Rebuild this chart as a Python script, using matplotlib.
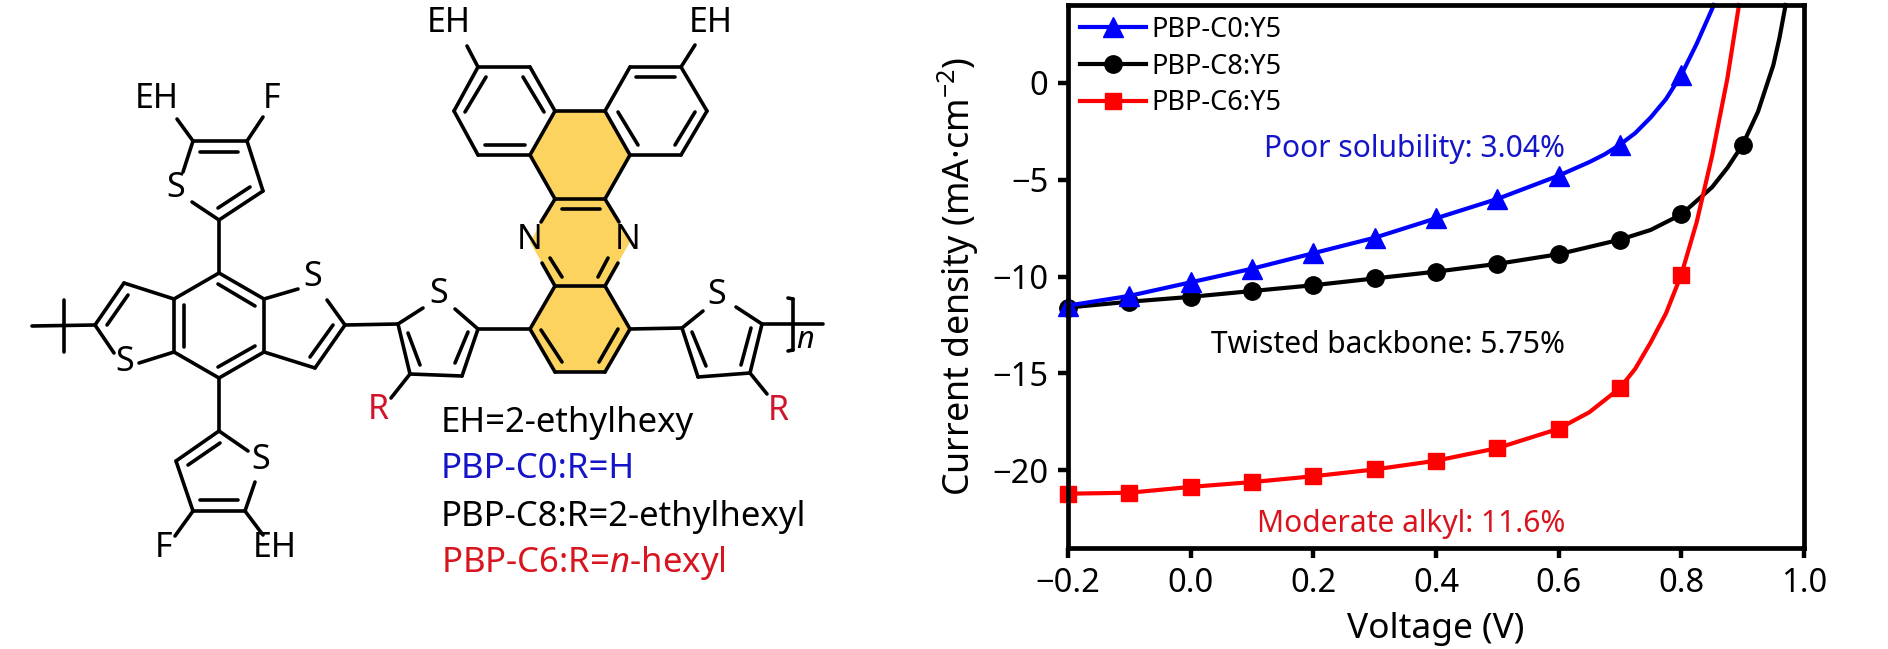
import matplotlib
matplotlib.use('Agg')
import matplotlib.pyplot as plt
from matplotlib.collections import LineCollection
from matplotlib.patches import Polygon

plt.rcParams['font.family'] = ['Noto Sans', 'DejaVu Sans']
plt.rcParams['mathtext.fontset'] = 'custom'
plt.rcParams['mathtext.rm'] = 'Noto Sans'
plt.rcParams['mathtext.it'] = 'Noto Sans:italic'
plt.rcParams['mathtext.default'] = 'regular'

# J-V curves
v_c0 = [-0.2, -0.1, 0.0, 0.1, 0.2, 0.3, 0.4, 0.5, 0.6, 0.65, 0.675, 0.7, 0.725, 0.75, 0.775, 0.8, 0.825, 0.853]
j_c0 = [-11.5, -11.0, -10.3, -9.6, -8.8, -8.0, -7.0, -6.0, -4.8, -4.1, -3.7, -3.2, -2.6, -1.8, -0.85, 0.4, 2.0, 4.0]
mark_c0 = [0, 1, 2, 3, 4, 5, 6, 7, 8, 11, 15]

v_c8 = [-0.2, -0.1, 0.0, 0.1, 0.2, 0.3, 0.4, 0.5, 0.6, 0.7, 0.75, 0.8, 0.85, 0.875, 0.9, 0.925, 0.95, 0.96, 0.97]
j_c8 = [-11.6, -11.3, -11.05, -10.75, -10.45, -10.1, -9.75, -9.35, -8.85, -8.1, -7.6, -6.8, -5.4, -4.4, -3.2, -1.5, 0.9, 2.3, 4.0]
mark_c8 = [0, 1, 2, 3, 4, 5, 6, 7, 8, 9, 11, 14]

v_c6 = [-0.2, -0.1, 0.0, 0.1, 0.2, 0.3, 0.4, 0.5, 0.6, 0.65, 0.7, 0.725, 0.75, 0.775, 0.8, 0.825, 0.85, 0.875, 0.894]
j_c6 = [-21.2, -21.15, -20.85, -20.6, -20.3, -19.95, -19.5, -18.85, -17.85, -17.0, -15.75, -14.75, -13.4, -11.9, -9.9, -7.2, -3.8, 0.2, 4.0]
mark_c6 = [0, 1, 2, 3, 4, 5, 6, 7, 8, 10, 14]

x_ticks = [-0.2, 0.0, 0.2, 0.4, 0.6, 0.8, 1.0]
x_labels = ['\u22120.2', '0.0', '0.2', '0.4', '0.6', '0.8', '1.0']
y_ticks = [-20, -15, -10, -5, 0]
y_labels = ['\u221220', '\u221215', '\u221210', '\u22125', '0']

# structure drawing, in image pixels
bonds = [
    # upper thiophene
    [(193, 141), (247, 141)], [(200, 152), (238, 152)], [(247, 141), (263, 191)],
    [(263, 191), (219, 220)], [(250, 187), (218, 208)], [(219, 220), (192, 202)],
    [(193, 141), (183, 172)], [(193, 141), (177, 119)], [(247, 141), (263, 117)],
    [(219, 220), (219, 273)],
    # benzodithiophene
    [(219, 273), (264, 299)], [(218, 284), (255, 306)], [(264, 299), (264, 352)],
    [(264, 352), (219, 378)], [(218, 367), (255, 346)], [(219, 378), (174, 352)],
    [(174, 352), (174, 299)], [(184, 305), (184, 347)], [(174, 299), (219, 273)],
    [(174, 299), (124, 283)], [(124, 283), (95, 325)], [(128, 295), (107, 325)],
    [(95, 325), (114, 353)], [(139, 363), (174, 352)],
    [(264, 299), (298, 289)], [(327, 300), (345, 325)], [(345, 325), (315, 368)],
    [(333, 325), (310, 357)], [(315, 368), (264, 352)],
    # left end with bracket
    [(32, 326), (95, 325)], [(64, 300), (64, 352)],
    # lower thiophene
    [(219, 378), (219, 431)], [(219, 431), (248, 451)], [(255, 482), (245, 511)],
    [(245, 511), (193, 511)], [(200, 500), (238, 500)], [(193, 511), (176, 461)],
    [(176, 461), (219, 431)], [(188, 465), (220, 443)], [(193, 511), (175, 536)],
    [(245, 511), (263, 535)],
    # thiophene with R, left
    [(345, 325), (398, 324)], [(398, 324), (423, 308)], [(455, 309), (478, 329)],
    [(478, 329), (462, 376)], [(468, 332), (455, 363)], [(462, 376), (410, 374)],
    [(410, 374), (398, 324)], [(408, 333), (420, 365)], [(410, 374), (391, 398)],
    [(478, 329), (530, 329)],
    # lower yellow ring
    [(530, 329), (555, 286)], [(555, 286), (605, 286)], [(605, 286), (630, 329)],
    [(630, 329), (605, 372)], [(605, 372), (555, 372)], [(555, 372), (530, 329)],
    [(541, 330), (562, 362)], [(618, 329), (599, 362)],
    # pyrazine
    [(555, 199), (605, 199)], [(562, 209), (600, 209)], [(555, 199), (541, 222)],
    [(555, 286), (542, 263)], [(605, 199), (619, 222)], [(605, 286), (618, 263)],
    [(550, 258), (562, 277)], [(608, 258), (598, 277)],
    # upper yellow ring
    [(555, 199), (530, 155)], [(530, 155), (555, 111)], [(555, 111), (605, 111)],
    [(605, 111), (630, 155)], [(630, 155), (605, 199)],
    # outer rings
    [(530, 155), (478, 155)], [(478, 155), (454, 111)], [(454, 111), (478, 67)],
    [(478, 67), (530, 67)], [(530, 67), (555, 111)], [(485, 145), (525, 145)],
    [(465, 112), (486, 77)], [(523, 77), (544, 112)], [(478, 67), (467, 46)],
    [(630, 155), (681, 155)], [(681, 155), (707, 111)], [(707, 111), (681, 67)],
    [(681, 67), (630, 67)], [(630, 67), (605, 111)], [(618, 112), (638, 145)],
    [(636, 77), (675, 77)], [(675, 145), (695, 112)], [(681, 67), (695, 45)],
    # thiophene with R, right
    [(630, 329), (682, 328)], [(682, 328), (703, 311)], [(736, 307), (762, 324)],
    [(762, 324), (750, 373)], [(751, 328), (741, 365)], [(750, 373), (698, 377)],
    [(698, 377), (682, 328)], [(692, 332), (706, 366)], [(750, 373), (767, 394)],
    [(762, 324), (823, 324)],
    [(788, 298), (793, 299)], [(793, 299), (793, 350)], [(793, 350), (788, 351)],
]
yellow_rings = [
    [(555, 199), (605, 199), (630, 155), (605, 111), (555, 111), (530, 155)],
    [(555, 199), (605, 199), (630, 242), (605, 286), (555, 286), (530, 242)],
    [(555, 286), (605, 286), (630, 329), (605, 372), (555, 372), (530, 329)],
]
atom_labels = [
    ('EH', 157, 99, 'k'), ('F', 272, 99, 'k'), ('S', 176, 188, 'k'), ('S', 313, 277, 'k'),
    ('S', 125, 362, 'k'), ('S', 261, 460, 'k'), ('F', 164, 548, 'k'), ('EH', 275, 548, 'k'),
    ('S', 439, 294, 'k'), ('S', 717, 295, 'k'), ('N', 530, 240, 'k'), ('N', 628, 240, 'k'),
    ('EH', 449, 23, 'k'), ('EH', 711, 23, 'k'),
    ('R', 378, 410, '#d0142c'), ('R', 778, 411, '#d0142c'),
]
notes = [
    ('EH=2-ethylhexy', 432, 'k'),
    ('PBP-C0:R=H', 478, '#1414c8'),
    ('PBP-C8:R=2-ethylhexyl', 526, 'k'),
    ('PBP-C6:R=$\\mathit{n}$-hexyl', 572, '#d8141e'),
]

fig = plt.figure(figsize=(18.88, 6.49), dpi=100)

# left part: whole figure in pixel coordinates
ax0 = fig.add_axes([0, 0, 1, 1])
ax0.set_xlim(0, 1888)
ax0.set_ylim(649, 0)
ax0.axis('off')
for ring in yellow_rings:
    ax0.add_patch(Polygon(ring, closed=True, fc='#fcd35f', ec='none', zorder=1))
ax0.add_collection(LineCollection(bonds, colors='k', linewidths=2.6, capstyle='round', zorder=2))
for s, x, y, c in atom_labels:
    ax0.text(x, y, s, color=c, fontsize=24.5, ha='center', va='center', zorder=3)
ax0.text(805, 340, 'n', style='italic', fontsize=22, ha='center', va='center')
for s, y, c in notes:
    ax0.text(441, y, s, color=c, fontsize=25, ha='left', va='baseline')

# right part: the J-V plot
ax = fig.add_axes([1068 / 1888, 1 - 548 / 649, (1804 - 1068) / 1888, (548 - 5) / 649])
ax.patch.set_alpha(0)
ax.plot(v_c0, j_c0, color='#0000ff', lw=3, marker='^', ms=15, markevery=mark_c0,
        label='PBP-C0:Y5', clip_on=False, zorder=3)
ax.plot(v_c8, j_c8, color='k', lw=3, marker='o', ms=12.5, markevery=mark_c8,
        label='PBP-C8:Y5', clip_on=False, zorder=2)
ax.plot(v_c6, j_c6, color='#ff0000', lw=3, marker='s', ms=11, markevery=mark_c6,
        label='PBP-C6:Y5', clip_on=False, zorder=2)
ax.set_xlim(-0.2, 1.0)
ax.set_ylim(-24, 4)
ax.set_xticks(x_ticks, x_labels)
ax.set_yticks(y_ticks, y_labels)
ax.tick_params(labelsize=23.5, width=3.2, length=7, pad=7)
for side in ax.spines:
    ax.spines[side].set_linewidth(3.4)
    ax.spines[side].set_zorder(5)
ax.set_xlabel('Voltage (V)', fontsize=25.4, labelpad=8)
ax.set_ylabel('Current density (mA\u00b7cm$^{\u22122}$)', fontsize=25.8)
ax.yaxis.set_label_coords(-0.118, 0.5)

ax.text(0.611, -3.45, 'Poor solubility: 3.04%', color='#1414c8', fontsize=21.6, ha='right', va='center')
ax.text(0.611, -13.55, 'Twisted backbone: 5.75%', color='k', fontsize=21.6, ha='right', va='center')
ax.text(0.611, -22.75, 'Moderate alkyl: 11.6%', color='#d8141e', fontsize=21.6, ha='right', va='center')

ax.legend(loc='upper left', bbox_to_anchor=(0.0085, 0.99), frameon=False, fontsize=19.5,
          handlelength=2.45, handletextpad=0.2, labelspacing=0.32, borderpad=0.2, borderaxespad=0)

fig.savefig('out.png', dpi=100)
